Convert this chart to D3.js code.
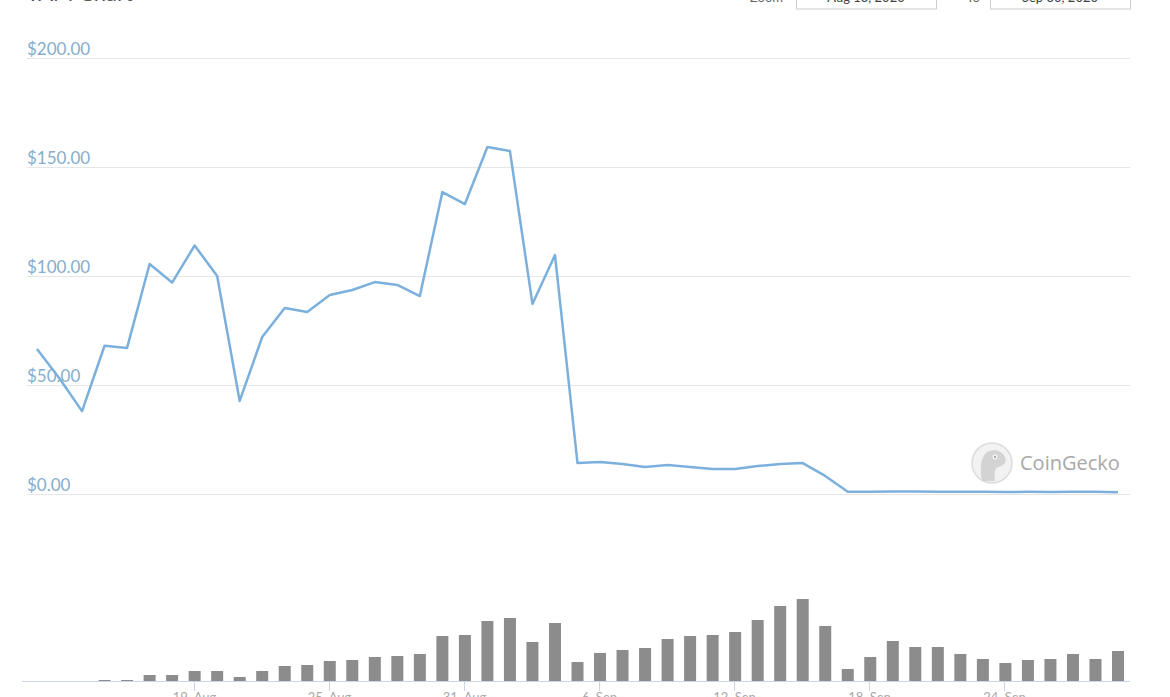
<!DOCTYPE html>
<html><head><meta charset="utf-8">
<script src="https://cdn.jsdelivr.net/npm/d3@7"></script>
<style>
html,body{margin:0;padding:0;background:#fff;}
svg{display:block;font-family:Lato,"Open Sans",sans-serif;}
</style></head>
<body>
<svg id="c" width="1170" height="697"></svg>
<script>
// ---- data ----
const prices = [66.5,53,38,68,67,105.5,97,114,100,42.7,72,85.3,83.5,91.3,93.6,97.2,95.9,90.8,138.5,133,159.2,157.3,87.2,109.6,14.2,14.7,13.8,12.4,13.3,12.4,11.5,11.5,12.8,13.8,14.2,8.3,1.0,1.0,1.2,1.1,1.0,1.0,1.0,0.9,1.0,0.9,1.0,1.0,0.8];
const volumes = [0,0,0,1,1,6,6,10,10,4,10,15,16,20,21,24,25,27,45,46,60,63,39,58,19,28,31,33,42,45,46,49,61,75,82,55,12,24,40,34,34,27,22,18,21,22,27,22,30];
const priceTicks = [0,50,100,150,200];
const tickIndex = [7,13,19,25,31,37,43];
const tickLabels = ["19. Aug","25. Aug","31. Aug","6. Sep","12. Sep","18. Sep","24. Sep"];
const titleText = "YAM Chart";

const svg = d3.select("#c");
const idx = d3.range(prices.length);
const x = d3.scalePoint().domain(idx).range([37,1118]);
const y = d3.scaleLinear().domain([0,200]).range([494,58]);
const yv = d3.scaleLinear().domain([0,100]).range([681,581]);

// title (cut off at top)
svg.append("text").attr("x",26).attr("y",1).attr("font-size",22).attr("fill","#555").text(titleText);

// range inputs (cut off at top)
svg.append("text").attr("x",783).attr("y",2).attr("text-anchor","end").attr("font-size",13).attr("fill","#666").text("Zoom");
svg.append("rect").attr("x",796.5).attr("y",-20).attr("width",140).attr("height",29).attr("fill","#fff").attr("stroke","#ccc");
svg.append("text").attr("x",866).attr("y",2).attr("text-anchor","middle").attr("font-size",13).attr("fill","#444").text("Aug 13, 2020");
svg.append("text").attr("x",980).attr("y",2).attr("text-anchor","end").attr("font-size",13).attr("fill","#666").text("To");
svg.append("rect").attr("x",990.5).attr("y",-20).attr("width",140).attr("height",29).attr("fill","#fff").attr("stroke","#ccc");
svg.append("text").attr("x",1060).attr("y",2).attr("text-anchor","middle").attr("font-size",13).attr("fill","#444").text("Sep 30, 2020");

// gridlines + labels
const gy = svg.append("g");
priceTicks.forEach(t=>{
  gy.append("line").attr("x1",27).attr("x2",1130).attr("y1",Math.round(y(t))+0.5).attr("y2",Math.round(y(t))+0.5)
    .attr("stroke","#e6e6e6").attr("stroke-width",1);
  gy.append("text").attr("x",27).attr("y",y(t)-3).attr("font-size",17).attr("fill","#86adcc")
    .text("$"+d3.format(".2f")(t));
});

// watermark
const wm = svg.append("g").attr("transform","translate(992,463)");
wm.append("circle").attr("r",20).attr("fill","#f2f2f2").attr("stroke","#dcdcdc").attr("stroke-width",1.5);
wm.append("path").attr("d","M-10,18 C-12,6 -12,-4 -6,-10 C0,-15 10,-13 13,-6 C15,-1 12,3 6,4 C3,5 2,9 3,18 Z").attr("fill","#d3d3d3");
wm.append("circle").attr("cx",3).attr("cy",-6).attr("r",2.5).attr("fill","#f7f7f7");
wm.append("circle").attr("cx",3).attr("cy",-6).attr("r",1.2).attr("fill","#aaa");
svg.append("text").attr("x",1020).attr("y",470).attr("font-size",20).attr("fill","#a8a8a8")
  .attr("font-family","'Open Sans',Lato,sans-serif").text("CoinGecko");

// price line
svg.append("path").datum(prices)
  .attr("d", d3.line().x((d,i)=>x(i)).y(d=>y(d)))
  .attr("fill","none").attr("stroke","#7cb0dc").attr("stroke-width",2.5).attr("stroke-linejoin","round");

// volume baseline
svg.append("line").attr("x1",22).attr("x2",1130).attr("y1",681.5).attr("y2",681.5).attr("stroke","#ccd6eb");

// volume bars
svg.append("g").selectAll("rect").data(volumes).join("rect")
  .attr("x",(d,i)=>x(i)-6).attr("width",12)
  .attr("y",d=>yv(d)).attr("height",d=>681-yv(d))
  .attr("fill","#8c8c8c");

// x ticks + labels (cut off at bottom)
const gx = svg.append("g");
tickIndex.forEach((ti,k)=>{
  const xx = Math.round(x(ti)-1)+0.5;
  gx.append("line").attr("x1",xx).attr("x2",xx).attr("y1",681).attr("y2",691).attr("stroke","#ccd6eb");
  gx.append("text").attr("x",xx).attr("y",702).attr("text-anchor","middle").attr("font-size",13).attr("fill","#aaa").text(tickLabels[k]);
});
</script>
</body></html>
